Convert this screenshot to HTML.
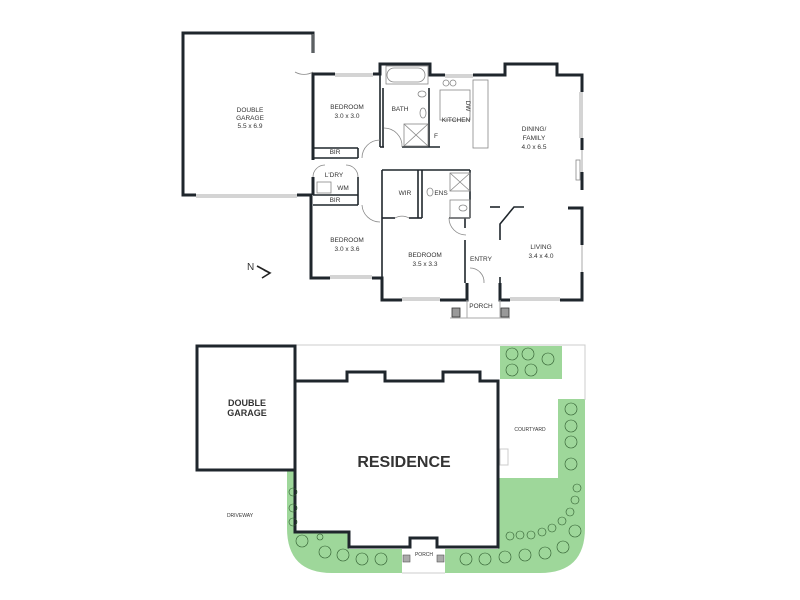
<!DOCTYPE html>
<html><head><meta charset="utf-8"><style>
html,body{margin:0;padding:0;background:#fff;width:800px;height:600px;overflow:hidden}
svg{display:block}
text{font-family:"Liberation Sans",sans-serif;fill:#333}
</style></head><body>
<svg width="800" height="600" viewBox="0 0 800 600" xmlns="http://www.w3.org/2000/svg">
<g fill="none" stroke="#1f262c" stroke-width="3" stroke-linejoin="miter">
<polyline points="196,195 183,195 183,33 313,33 313,53"/>
<polyline points="297,195 311,195 311,278 330,278"/>
<polyline points="372,278 382,278 382,300 402,300"/>
<polyline points="440,300 467,300 467,283"/>
<polyline points="500,283 500,300 510,300"/>
<polyline points="560,300 582,300 582,272"/>
<polyline points="582,245 582,208 568,208"/>
<polyline points="582,190 582,172"/>
<polyline points="582,150 582,138"/>
<polyline points="582,92 582,75 557,75 557,64 505,64 505,75 473,75"/>
<polyline points="445,75 430,75 430,64 380,64 380,74 373,74"/>
<polyline points="335,74 313,74 313,160"/>
<polyline points="313,177 313,195"/>
</g>
<g fill="none" stroke="#1f262c" stroke-width="1.6">
<line x1="313" y1="53" x2="313" y2="34" stroke-width="1" stroke="#999"/>
<line x1="196" y1="195" x2="297" y2="195" stroke="#aaa" stroke-width="1"/>
<line x1="196" y1="197" x2="297" y2="197" stroke="#aaa" stroke-width="1"/>
<g stroke="#aaa" stroke-width="1">
<line x1="335" y1="74" x2="373" y2="74"/><line x1="335" y1="76" x2="373" y2="76"/>
<line x1="445" y1="75" x2="473" y2="75"/><line x1="445" y1="77" x2="473" y2="77"/>
<line x1="582" y1="92" x2="582" y2="138"/><line x1="580" y1="92" x2="580" y2="138"/>
<line x1="582" y1="150" x2="582" y2="172"/><line x1="582" y1="245" x2="582" y2="272"/>
<line x1="510" y1="300" x2="560" y2="300"/><line x1="510" y1="298" x2="560" y2="298"/>
<line x1="402" y1="300" x2="440" y2="300"/><line x1="402" y1="298" x2="440" y2="298"/>
<line x1="330" y1="278" x2="372" y2="278"/><line x1="330" y1="276" x2="372" y2="276"/>
<line x1="467" y1="300" x2="467" y2="318" /><line x1="500" y1="300" x2="500" y2="318"/>
<line x1="450" y1="318" x2="510" y2="318"/>
</g>
<line x1="313" y1="148" x2="358" y2="148"/>
<line x1="313" y1="158" x2="358" y2="158"/>
<line x1="358" y1="148" x2="358" y2="158"/>
<line x1="313" y1="195" x2="358" y2="195"/>
<line x1="313" y1="205" x2="358" y2="205"/>
<line x1="358" y1="177" x2="358" y2="205"/>
<line x1="380" y1="64" x2="380" y2="147"/>
<line x1="383" y1="88" x2="383" y2="147"/>
<line x1="380" y1="147" x2="384" y2="147"/>
<line x1="402" y1="147" x2="440" y2="147"/>
<line x1="429" y1="88" x2="429" y2="147"/>
<line x1="382" y1="170" x2="470" y2="170"/>
<line x1="382" y1="170" x2="382" y2="278"/>
<line x1="418" y1="170" x2="418" y2="218"/>
<line x1="422" y1="170" x2="422" y2="218"/>
<line x1="382" y1="218" x2="395" y2="218"/>
<line x1="409" y1="218" x2="422" y2="218"/>
<line x1="449" y1="218" x2="470" y2="218"/>
<line x1="470" y1="170" x2="470" y2="218"/>
<line x1="465" y1="218" x2="465" y2="228"/>
<line x1="465" y1="240" x2="465" y2="283"/>
<line x1="500" y1="207" x2="490" y2="207" />
<polyline points="524,207 514,207 500,224 500,240"/>
<line x1="500" y1="277" x2="500" y2="300"/>
</g>
<g fill="none" stroke="#888" stroke-width="0.8">
<rect x="387" y="68" width="38" height="14" rx="7"/>
<rect x="386" y="66" width="42" height="18"/>
<rect x="404" y="124" width="24" height="22"/><line x1="404" y1="124" x2="428" y2="146"/><line x1="428" y1="124" x2="404" y2="146"/>
<ellipse cx="422" cy="94" rx="4" ry="3"/><ellipse cx="423" cy="113" rx="3" ry="5"/>
<rect x="440" y="90" width="30" height="30"/>
<rect x="473" y="80" width="15" height="68"/>
<circle cx="446" cy="83" r="3"/><circle cx="453" cy="83" r="3"/>
<rect x="450" y="200" width="20" height="18"/>
<rect x="450" y="173" width="20" height="18"/><line x1="450" y1="173" x2="470" y2="191"/><line x1="470" y1="173" x2="450" y2="191"/>
<ellipse cx="430" cy="192" rx="3" ry="4"/><ellipse cx="463" cy="208" rx="4" ry="3"/>
<rect x="317" y="182" width="14" height="11"/>
<rect x="576" y="160" width="4" height="20"/>
<path d="M313,72 A18,18 0 0 1 295,72"/>
<path d="M362,158 A18,18 0 0 1 380,140"/>
<path d="M384,128 A18,18 0 0 1 402,147"/>
<path d="M362,205 A18,18 0 0 0 380,222"/>
<path d="M395,218 A14,14 0 0 1 409,218"/>
<path d="M449,218 A17,17 0 0 0 466,235"/>
<path d="M470,268 A14,14 0 0 1 484,283"/>
<path d="M313,177 A12,12 0 0 1 325,165"/>
<path d="M358,177 A12,12 0 0 0 346,165"/>
</g>
<g fill="#999" stroke="#333" stroke-width="0.8">
<rect x="452" y="308" width="8" height="9"/><rect x="501" y="308" width="8" height="9"/>
</g>
<g font-size="6.5" text-anchor="middle">
<text x="250" y="112">DOUBLE</text><text x="250" y="120">GARAGE</text><text x="250" y="128">5.5 x 6.9</text>
<text x="347" y="109">BEDROOM</text><text x="347" y="118">3.0 x 3.0</text>
<text x="400" y="111">BATH</text>
<text x="456" y="122">KITCHEN</text>
<text x="436" y="138">F</text>
<text x="534" y="131">DINING/</text><text x="534" y="140">FAMILY</text><text x="534" y="149">4.0 x 6.5</text>
<text x="335" y="154">BIR</text><text x="334" y="177">L'DRY</text><text x="343" y="190">WM</text><text x="335" y="202">BIR</text>
<text x="405" y="195">WIR</text><text x="441" y="195">ENS</text>
<text x="347" y="242">BEDROOM</text><text x="347" y="251">3.0 x 3.6</text>
<text x="425" y="257">BEDROOM</text><text x="425" y="266">3.5 x 3.3</text>
<text x="481" y="261">ENTRY</text>
<text x="541" y="249">LIVING</text><text x="541" y="258">3.4 x 4.0</text>
<text x="481" y="308">PORCH</text>
<text x="466" y="106" transform="rotate(90 466 106)">DW</text>
</g>
<text x="247" y="270" font-size="10">N</text>
<path d="M257,266 L270,273 M262,278 L270,273 L264,270" fill="none" stroke="#222" stroke-width="1.6"/>

<g fill="#9ed79a">
<rect x="500" y="346" width="62" height="33"/>
<rect x="558" y="399" width="27" height="79"/>
<path d="M498,478 L585,478 L585,528 Q585,573 540,573 L445,573 L445,549 L498,549 Z"/>
<path d="M287,470 L295,470 L295,532 L349,532 L349,549 L402,549 L402,573 L332,573 Q287,573 287,528 Z"/>
</g>
<g fill="none" stroke="#ccc" stroke-width="1">
<polyline points="295,345 585,345 585,400"/>
<rect x="500" y="449" width="8" height="16"/>
<line x1="402" y1="573" x2="445" y2="573"/>
</g>
<g fill="none" stroke="#1f262c" stroke-width="3">
<rect x="197" y="346" width="98" height="124"/>
<polygon points="295,381 347,381 347,372 385,372 385,381 443,381 443,372 480,372 480,381 498,381 498,547 437,547 437,538 410,538 410,547 349,547 349,532 295,532"/>
</g>
<g fill="none" stroke="#2d5a2d" stroke-width="0.6">
<circle cx="512" cy="354" r="6"/><circle cx="528" cy="354" r="6"/><circle cx="548" cy="359" r="6"/><circle cx="512" cy="370" r="6"/><circle cx="531" cy="370" r="6"/>
<circle cx="571" cy="409" r="6"/><circle cx="571" cy="426" r="6"/><circle cx="571" cy="442" r="6"/><circle cx="571" cy="464" r="6"/>
<circle cx="577" cy="488" r="4"/><circle cx="575" cy="500" r="4"/><circle cx="570" cy="512" r="4"/><circle cx="562" cy="521" r="4"/><circle cx="552" cy="528" r="4"/><circle cx="542" cy="532" r="4"/><circle cx="531" cy="535" r="4"/><circle cx="520" cy="535" r="4"/><circle cx="510" cy="536" r="4"/>
<circle cx="575" cy="531" r="6"/><circle cx="563" cy="547" r="6"/><circle cx="545" cy="553" r="6"/><circle cx="525" cy="555" r="6"/><circle cx="505" cy="557" r="6"/><circle cx="485" cy="559" r="6"/><circle cx="466" cy="559" r="6"/>
<circle cx="293" cy="492" r="4"/><circle cx="293" cy="508" r="4"/><circle cx="293" cy="522" r="4"/>
<circle cx="302" cy="541" r="6"/><circle cx="325" cy="552" r="6"/><circle cx="343" cy="555" r="6"/><circle cx="362" cy="559" r="6"/><circle cx="381" cy="559" r="6"/><circle cx="320" cy="537" r="3"/>
</g>
<g fill="#aaa" stroke="#555" stroke-width="0.6"><rect x="403" y="555" width="7" height="7"/><rect x="437" y="555" width="7" height="7"/></g>
<text x="247" y="406" font-size="9" font-weight="bold" text-anchor="middle" fill="#222">DOUBLE</text>
<text x="247" y="416" font-size="9" font-weight="bold" text-anchor="middle" fill="#222">GARAGE</text>
<text x="404" y="467" font-size="16" font-weight="bold" text-anchor="middle" fill="#222">RESIDENCE</text>
<text x="530" y="431" font-size="5" text-anchor="middle">COURTYARD</text>
<text x="240" y="517" font-size="5" text-anchor="middle">DRIVEWAY</text>
<text x="424" y="556" font-size="5" text-anchor="middle">PORCH</text>
</svg>
</body></html>
